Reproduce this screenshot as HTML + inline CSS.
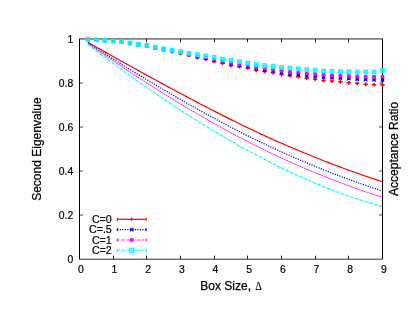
<!DOCTYPE html>
<html><head><meta charset="utf-8"><title>plot</title>
<style>html,body{margin:0;padding:0;background:#fff;}svg{display:block;}</style></head>
<body>
<svg width="415" height="321" viewBox="0 0 415 321">
<rect width="415" height="321" fill="#fff"/>
<defs><filter id="soft" x="0" y="0" width="415" height="321" filterUnits="userSpaceOnUse"><feGaussianBlur stdDeviation="0.35"/></filter></defs>
<g filter="url(#soft)">
<g stroke="#000" stroke-width="1" fill="none">
<line x1="79.5" y1="39" x2="79.5" y2="259"/>
<line x1="382.5" y1="39" x2="382.5" y2="259"/>
<line x1="79" y1="38.95" x2="383" y2="38.95" stroke="#111" stroke-width="0.95"/>
<line x1="79" y1="259.2" x2="383" y2="259.2" stroke="#111" stroke-width="0.85"/>
</g>
<g stroke="#000" stroke-width="1" fill="none">
<line x1="113.5" y1="259" x2="113.5" y2="255.6" stroke-width="0.85"/>
<line x1="113.5" y1="39" x2="113.5" y2="42.3" stroke-width="0.85"/>
<line x1="146.5" y1="259" x2="146.5" y2="255.6" stroke-width="0.85"/>
<line x1="146.5" y1="39" x2="146.5" y2="42.3" stroke-width="0.85"/>
<line x1="180.5" y1="259" x2="180.5" y2="255.6" stroke-width="0.85"/>
<line x1="180.5" y1="39" x2="180.5" y2="42.3" stroke-width="0.85"/>
<line x1="214.5" y1="259" x2="214.5" y2="255.6" stroke-width="0.85"/>
<line x1="214.5" y1="39" x2="214.5" y2="42.3" stroke-width="0.85"/>
<line x1="247.5" y1="259" x2="247.5" y2="255.6" stroke-width="0.85"/>
<line x1="247.5" y1="39" x2="247.5" y2="42.3" stroke-width="0.85"/>
<line x1="281.5" y1="259" x2="281.5" y2="255.6" stroke-width="0.85"/>
<line x1="281.5" y1="39" x2="281.5" y2="42.3" stroke-width="0.85"/>
<line x1="315.5" y1="259" x2="315.5" y2="255.6" stroke-width="0.85"/>
<line x1="315.5" y1="39" x2="315.5" y2="42.3" stroke-width="0.85"/>
<line x1="348.5" y1="259" x2="348.5" y2="255.6" stroke-width="0.85"/>
<line x1="348.5" y1="39" x2="348.5" y2="42.3" stroke-width="0.85"/>
<line x1="80" y1="215.0" x2="83" y2="215.0" stroke="#555"/>
<line x1="382" y1="215.0" x2="379" y2="215.0" stroke="#555"/>
<line x1="80" y1="171.0" x2="83" y2="171.0" stroke="#555"/>
<line x1="382" y1="171.0" x2="379" y2="171.0" stroke="#555"/>
<line x1="80" y1="126.99999999999997" x2="83" y2="126.99999999999997" stroke="#555"/>
<line x1="382" y1="126.99999999999997" x2="379" y2="126.99999999999997" stroke="#555"/>
<line x1="80" y1="83.0" x2="83" y2="83.0" stroke="#555"/>
<line x1="382" y1="83.0" x2="379" y2="83.0" stroke="#555"/>
</g>
<g font-family="Liberation Sans, sans-serif" font-size="10.4" fill="#000" stroke="#000" stroke-width="0.2">
<text x="80.8" y="273" text-anchor="middle">0</text>
<text x="114.5" y="273" text-anchor="middle">1</text>
<text x="148.1" y="273" text-anchor="middle">2</text>
<text x="181.8" y="273" text-anchor="middle">3</text>
<text x="215.5" y="273" text-anchor="middle">4</text>
<text x="249.1" y="273" text-anchor="middle">5</text>
<text x="282.8" y="273" text-anchor="middle">6</text>
<text x="316.5" y="273" text-anchor="middle">7</text>
<text x="350.1" y="273" text-anchor="middle">8</text>
<text x="383.8" y="273" text-anchor="middle">9</text>
<text x="73.3" y="262.7" text-anchor="end">0</text>
<text x="73.3" y="218.7" text-anchor="end">0.2</text>
<text x="73.3" y="174.7" text-anchor="end">0.4</text>
<text x="73.3" y="130.7" text-anchor="end">0.6</text>
<text x="73.3" y="86.7" text-anchor="end">0.8</text>
<text x="73.3" y="42.7" text-anchor="end">1</text>
</g>
<g font-family="Liberation Sans, sans-serif" font-size="12" fill="#000" stroke="#000" stroke-width="0.25">
<text x="200.3" y="289.6">Box Size,</text><text transform="translate(255.2,289.6) scale(0.82,1)" font-family="Liberation Serif, serif" font-size="12.6" stroke-width="0.15">Δ</text>
<text transform="translate(41.2,149.1) rotate(-90)" text-anchor="middle">Second Eigenvalue</text>
<text transform="translate(397.6,148.9) rotate(-90)" text-anchor="middle">Acceptance Ratio</text>
</g>
<g fill="none">
<path d="M87.92,42.35 L90.39,43.75 L92.87,45.15 L95.34,46.55 L97.82,47.95 L100.29,49.35 L102.77,50.74 L105.25,52.13 L107.72,53.53 L110.20,54.92 L112.67,56.30 L115.15,57.69 L117.62,59.07 L120.10,60.45 L122.57,61.83 L125.05,63.21 L127.52,64.59 L130.00,65.96 L132.48,67.33 L134.95,68.70 L137.43,70.06 L139.90,71.43 L142.38,72.79 L144.85,74.15 L147.33,75.51 L149.80,76.86 L152.28,78.22 L154.75,79.57 L157.23,80.91 L159.71,82.26 L162.18,83.60 L164.66,84.94 L167.13,86.28 L169.61,87.61 L172.08,88.95 L174.56,90.28 L177.03,91.60 L179.51,92.93 L181.99,94.25 L184.46,95.57 L186.94,96.88 L189.41,98.19 L191.89,99.50 L194.36,100.81 L196.84,102.11 L199.31,103.41 L201.79,104.70 L204.26,105.99 L206.74,107.28 L209.22,108.56 L211.69,109.83 L214.17,111.10 L216.64,112.37 L219.12,113.63 L221.59,114.89 L224.07,116.14 L226.54,117.39 L229.02,118.62 L231.50,119.86 L233.97,121.08 L236.45,122.30 L238.92,123.52 L241.40,124.72 L243.87,125.92 L246.35,127.12 L248.82,128.30 L251.30,129.48 L253.77,130.65 L256.25,131.82 L258.73,132.97 L261.20,134.12 L263.68,135.26 L266.15,136.40 L268.63,137.52 L271.10,138.64 L273.58,139.75 L276.05,140.86 L278.53,141.95 L281.00,143.04 L283.48,144.12 L285.96,145.20 L288.43,146.26 L290.91,147.32 L293.38,148.37 L295.86,149.42 L298.33,150.46 L300.81,151.49 L303.28,152.52 L305.76,153.53 L308.24,154.55 L310.71,155.55 L313.19,156.55 L315.66,157.54 L318.14,158.53 L320.61,159.51 L323.09,160.48 L325.56,161.45 L328.04,162.41 L330.51,163.36 L332.99,164.31 L335.47,165.25 L337.94,166.18 L340.42,167.11 L342.89,168.03 L345.37,168.94 L347.84,169.85 L350.32,170.75 L352.79,171.64 L355.27,172.52 L357.75,173.40 L360.22,174.27 L362.70,175.13 L365.17,175.99 L367.65,176.84 L370.12,177.67 L372.60,178.51 L375.07,179.33 L377.55,180.15 L380.02,180.95 L382.50,181.75" stroke="#ff0000" stroke-width="1.2"/>
<path d="M87.92,42.99 L90.39,44.58 L92.87,46.17 L95.34,47.76 L97.82,49.34 L100.29,50.92 L102.77,52.49 L105.25,54.06 L107.72,55.62 L110.20,57.18 L112.67,58.74 L115.15,60.29 L117.62,61.83 L120.10,63.38 L122.57,64.91 L125.05,66.44 L127.52,67.97 L130.00,69.49 L132.48,71.01 L134.95,72.52 L137.43,74.03 L139.90,75.53 L142.38,77.03 L144.85,78.52 L147.33,80.01 L149.80,81.50 L152.28,82.97 L154.75,84.45 L157.23,85.92 L159.71,87.38 L162.18,88.84 L164.66,90.30 L167.13,91.75 L169.61,93.19 L172.08,94.63 L174.56,96.07 L177.03,97.50 L179.51,98.92 L181.99,100.34 L184.46,101.76 L186.94,103.17 L189.41,104.57 L191.89,105.97 L194.36,107.36 L196.84,108.75 L199.31,110.13 L201.79,111.50 L204.26,112.87 L206.74,114.24 L209.22,115.60 L211.69,116.95 L214.17,118.29 L216.64,119.63 L219.12,120.96 L221.59,122.28 L224.07,123.60 L226.54,124.91 L229.02,126.21 L231.50,127.51 L233.97,128.79 L236.45,130.07 L238.92,131.34 L241.40,132.60 L243.87,133.86 L246.35,135.10 L248.82,136.34 L251.30,137.57 L253.77,138.79 L256.25,140.00 L258.73,141.21 L261.20,142.40 L263.68,143.59 L266.15,144.76 L268.63,145.93 L271.10,147.09 L273.58,148.24 L276.05,149.39 L278.53,150.52 L281.00,151.65 L283.48,152.76 L285.96,153.87 L288.43,154.97 L290.91,156.07 L293.38,157.15 L295.86,158.23 L298.33,159.29 L300.81,160.35 L303.28,161.41 L305.76,162.45 L308.24,163.49 L310.71,164.52 L313.19,165.54 L315.66,166.56 L318.14,167.56 L320.61,168.56 L323.09,169.56 L325.56,170.54 L328.04,171.52 L330.51,172.49 L332.99,173.45 L335.47,174.40 L337.94,175.35 L340.42,176.29 L342.89,177.22 L345.37,178.15 L347.84,179.06 L350.32,179.97 L352.79,180.87 L355.27,181.77 L357.75,182.65 L360.22,183.53 L362.70,184.40 L365.17,185.26 L367.65,186.11 L370.12,186.95 L372.60,187.79 L375.07,188.61 L377.55,189.43 L380.02,190.24 L382.50,191.04" stroke="#0000ff" stroke-width="1.2" stroke-dasharray="1.2 1.3"/>
<path d="M87.92,43.42 L90.39,45.16 L92.87,46.89 L95.34,48.61 L97.82,50.33 L100.29,52.04 L102.77,53.74 L105.25,55.44 L107.72,57.13 L110.20,58.81 L112.67,60.49 L115.15,62.16 L117.62,63.83 L120.10,65.48 L122.57,67.13 L125.05,68.78 L127.52,70.42 L130.00,72.05 L132.48,73.67 L134.95,75.29 L137.43,76.90 L139.90,78.50 L142.38,80.10 L144.85,81.69 L147.33,83.28 L149.80,84.85 L152.28,86.42 L154.75,87.99 L157.23,89.55 L159.71,91.10 L162.18,92.64 L164.66,94.18 L167.13,95.71 L169.61,97.24 L172.08,98.75 L174.56,100.27 L177.03,101.77 L179.51,103.27 L181.99,104.76 L184.46,106.24 L186.94,107.72 L189.41,109.19 L191.89,110.66 L194.36,112.11 L196.84,113.56 L199.31,115.01 L201.79,116.44 L204.26,117.87 L206.74,119.29 L209.22,120.70 L211.69,122.11 L214.17,123.50 L216.64,124.89 L219.12,126.27 L221.59,127.64 L224.07,129.01 L226.54,130.36 L229.02,131.71 L231.50,133.05 L233.97,134.37 L236.45,135.69 L238.92,137.00 L241.40,138.30 L243.87,139.60 L246.35,140.88 L248.82,142.15 L251.30,143.41 L253.77,144.66 L256.25,145.91 L258.73,147.14 L261.20,148.36 L263.68,149.58 L266.15,150.78 L268.63,151.97 L271.10,153.16 L273.58,154.33 L276.05,155.50 L278.53,156.65 L281.00,157.80 L283.48,158.94 L285.96,160.06 L288.43,161.18 L290.91,162.29 L293.38,163.39 L295.86,164.48 L298.33,165.57 L300.81,166.64 L303.28,167.71 L305.76,168.76 L308.24,169.81 L310.71,170.85 L313.19,171.88 L315.66,172.91 L318.14,173.92 L320.61,174.93 L323.09,175.93 L325.56,176.92 L328.04,177.90 L330.51,178.87 L332.99,179.84 L335.47,180.80 L337.94,181.75 L340.42,182.69 L342.89,183.62 L345.37,184.55 L347.84,185.47 L350.32,186.37 L352.79,187.27 L355.27,188.17 L357.75,189.05 L360.22,189.93 L362.70,190.79 L365.17,191.65 L367.65,192.50 L370.12,193.34 L372.60,194.17 L375.07,194.99 L377.55,195.81 L380.02,196.61 L382.50,197.41" stroke="#ff00ff" stroke-width="0.95" stroke-dasharray="2 0.4"/>
<path d="M87.92,44.51 L90.39,46.39 L92.87,48.27 L95.34,50.14 L97.82,52.00 L100.29,53.86 L102.77,55.71 L105.25,57.56 L107.72,59.40 L110.20,61.23 L112.67,63.05 L115.15,64.87 L117.62,66.68 L120.10,68.49 L122.57,70.29 L125.05,72.08 L127.52,73.86 L130.00,75.63 L132.48,77.40 L134.95,79.17 L137.43,80.92 L139.90,82.67 L142.38,84.40 L144.85,86.14 L147.33,87.86 L149.80,89.58 L152.28,91.28 L154.75,92.98 L157.23,94.68 L159.71,96.36 L162.18,98.04 L164.66,99.71 L167.13,101.37 L169.61,103.02 L172.08,104.66 L174.56,106.30 L177.03,107.92 L179.51,109.54 L181.99,111.15 L184.46,112.75 L186.94,114.34 L189.41,115.92 L191.89,117.50 L194.36,119.06 L196.84,120.62 L199.31,122.16 L201.79,123.70 L204.26,125.23 L206.74,126.75 L209.22,128.26 L211.69,129.76 L214.17,131.25 L216.64,132.73 L219.12,134.20 L221.59,135.67 L224.07,137.12 L226.54,138.56 L229.02,139.99 L231.50,141.42 L233.97,142.83 L236.45,144.23 L238.92,145.62 L241.40,147.00 L243.87,148.38 L246.35,149.74 L248.82,151.09 L251.30,152.43 L253.77,153.76 L256.25,155.08 L258.73,156.38 L261.20,157.68 L263.68,158.97 L266.15,160.24 L268.63,161.51 L271.10,162.76 L273.58,164.00 L276.05,165.24 L278.53,166.46 L281.00,167.66 L283.48,168.86 L285.96,170.05 L288.43,171.22 L290.91,172.38 L293.38,173.53 L295.86,174.67 L298.33,175.80 L300.81,176.92 L303.28,178.02 L305.76,179.11 L308.24,180.19 L310.71,181.26 L313.19,182.32 L315.66,183.36 L318.14,184.39 L320.61,185.41 L323.09,186.41 L325.56,187.41 L328.04,188.39 L330.51,189.35 L332.99,190.31 L335.47,191.25 L337.94,192.18 L340.42,193.10 L342.89,194.00 L345.37,194.89 L347.84,195.77 L350.32,196.63 L352.79,197.48 L355.27,198.32 L357.75,199.15 L360.22,199.96 L362.70,200.75 L365.17,201.54 L367.65,202.31 L370.12,203.06 L372.60,203.80 L375.07,204.53 L377.55,205.25 L380.02,205.95 L382.50,206.63" stroke="#00ffff" stroke-width="1.25" stroke-dasharray="2.6 0.8 0.8 0.8"/>
</g>
<path d="M85.72,39.41H90.12M87.92,37.51V41.31" stroke="#ff0000" stroke-width="1.5" fill="none"/>
<path d="M94.13,39.84H98.53M96.33,37.95V41.74" stroke="#ff0000" stroke-width="1.5" fill="none"/>
<path d="M102.55,40.50H106.95M104.75,38.60V42.40" stroke="#ff0000" stroke-width="1.5" fill="none"/>
<path d="M110.97,41.18H115.37M113.17,39.28V43.08" stroke="#ff0000" stroke-width="1.5" fill="none"/>
<path d="M119.38,41.88H123.78M121.58,39.98V43.78" stroke="#ff0000" stroke-width="1.5" fill="none"/>
<path d="M127.80,43.41H132.20M130.00,41.51V45.30" stroke="#ff0000" stroke-width="1.5" fill="none"/>
<path d="M136.22,44.95H140.62M138.42,43.05V46.85" stroke="#ff0000" stroke-width="1.5" fill="none"/>
<path d="M144.63,46.12H149.03M146.83,44.22V48.02" stroke="#ff0000" stroke-width="1.5" fill="none"/>
<path d="M153.05,48.21H157.45M155.25,46.31V50.11" stroke="#ff0000" stroke-width="1.5" fill="none"/>
<path d="M161.47,49.83H165.87M163.67,47.93V51.73" stroke="#ff0000" stroke-width="1.5" fill="none"/>
<path d="M169.88,51.56H174.28M172.08,49.66V53.46" stroke="#ff0000" stroke-width="1.5" fill="none"/>
<path d="M178.30,53.22H182.70M180.50,51.32V55.12" stroke="#ff0000" stroke-width="1.5" fill="none"/>
<path d="M186.72,55.20H191.12M188.92,53.30V57.10" stroke="#ff0000" stroke-width="1.5" fill="none"/>
<path d="M195.13,57.60H199.53M197.33,55.70V59.50" stroke="#ff0000" stroke-width="1.5" fill="none"/>
<path d="M203.55,59.10H207.95M205.75,57.20V61.00" stroke="#ff0000" stroke-width="1.5" fill="none"/>
<path d="M211.97,61.40H216.37M214.17,59.50V63.30" stroke="#ff0000" stroke-width="1.5" fill="none"/>
<path d="M220.38,63.10H224.78M222.58,61.20V65.00" stroke="#ff0000" stroke-width="1.5" fill="none"/>
<path d="M228.80,65.60H233.20M231.00,63.70V67.50" stroke="#ff0000" stroke-width="1.5" fill="none"/>
<path d="M237.22,66.70H241.62M239.42,64.80V68.60" stroke="#ff0000" stroke-width="1.5" fill="none"/>
<path d="M245.63,68.10H250.03M247.83,66.20V70.00" stroke="#ff0000" stroke-width="1.5" fill="none"/>
<path d="M254.05,70.30H258.45M256.25,68.40V72.20" stroke="#ff0000" stroke-width="1.5" fill="none"/>
<path d="M262.47,71.50H266.87M264.67,69.60V73.40" stroke="#ff0000" stroke-width="1.5" fill="none"/>
<path d="M270.88,72.80H275.28M273.08,70.90V74.70" stroke="#ff0000" stroke-width="1.5" fill="none"/>
<path d="M279.30,74.60H283.70M281.50,72.70V76.50" stroke="#ff0000" stroke-width="1.5" fill="none"/>
<path d="M287.72,75.65H292.12M289.92,73.75V77.55" stroke="#ff0000" stroke-width="1.5" fill="none"/>
<path d="M296.13,76.70H300.53M298.33,74.80V78.60" stroke="#ff0000" stroke-width="1.5" fill="none"/>
<path d="M304.55,78.20H308.95M306.75,76.30V80.10" stroke="#ff0000" stroke-width="1.5" fill="none"/>
<path d="M312.97,79.30H317.37M315.17,77.40V81.20" stroke="#ff0000" stroke-width="1.5" fill="none"/>
<path d="M321.38,80.40H325.78M323.58,78.50V82.30" stroke="#ff0000" stroke-width="1.5" fill="none"/>
<path d="M329.80,81.10H334.20M332.00,79.20V83.00" stroke="#ff0000" stroke-width="1.5" fill="none"/>
<path d="M338.22,81.80H342.62M340.42,79.90V83.70" stroke="#ff0000" stroke-width="1.5" fill="none"/>
<path d="M346.63,82.80H351.03M348.83,80.90V84.70" stroke="#ff0000" stroke-width="1.5" fill="none"/>
<path d="M355.05,83.30H359.45M357.25,81.40V85.20" stroke="#ff0000" stroke-width="1.5" fill="none"/>
<path d="M363.47,84.30H367.87M365.67,82.40V86.20" stroke="#ff0000" stroke-width="1.5" fill="none"/>
<path d="M371.88,84.70H376.28M374.08,82.80V86.60" stroke="#ff0000" stroke-width="1.5" fill="none"/>
<path d="M380.30,84.90H384.70M382.50,83.00V86.80" stroke="#ff0000" stroke-width="1.5" fill="none"/>
<path d="M86.27,37.76L89.57,41.06M86.27,41.06L89.57,37.76M86.27,39.41H89.57" stroke="#0000ff" stroke-width="1.15" fill="none"/>
<path d="M94.68,38.18L97.98,41.48M94.68,41.48L97.98,38.18M94.68,39.83H97.98" stroke="#0000ff" stroke-width="1.15" fill="none"/>
<path d="M103.10,38.82L106.40,42.12M103.10,42.12L106.40,38.82M103.10,40.47H106.40" stroke="#0000ff" stroke-width="1.15" fill="none"/>
<path d="M111.52,39.48L114.82,42.78M111.52,42.78L114.82,39.48M111.52,41.13H114.82" stroke="#0000ff" stroke-width="1.15" fill="none"/>
<path d="M119.93,40.15L123.23,43.45M119.93,43.45L123.23,40.15M119.93,41.80H123.23" stroke="#0000ff" stroke-width="1.15" fill="none"/>
<path d="M128.35,41.64L131.65,44.94M128.35,44.94L131.65,41.64M128.35,43.29H131.65" stroke="#0000ff" stroke-width="1.15" fill="none"/>
<path d="M136.77,43.15L140.07,46.45M136.77,46.45L140.07,43.15M136.77,44.80H140.07" stroke="#0000ff" stroke-width="1.15" fill="none"/>
<path d="M145.18,44.27L148.48,47.57M145.18,47.57L148.48,44.27M145.18,45.92H148.48" stroke="#0000ff" stroke-width="1.15" fill="none"/>
<path d="M153.60,46.31L156.90,49.61M153.60,49.61L156.90,46.31M153.60,47.96H156.90" stroke="#0000ff" stroke-width="1.15" fill="none"/>
<path d="M162.02,47.86L165.32,51.16M162.02,51.16L165.32,47.86M162.02,49.51H165.32" stroke="#0000ff" stroke-width="1.15" fill="none"/>
<path d="M170.43,49.53L173.73,52.83M170.43,52.83L173.73,49.53M170.43,51.18H173.73" stroke="#0000ff" stroke-width="1.15" fill="none"/>
<path d="M178.85,51.12L182.15,54.42M178.85,54.42L182.15,51.12M178.85,52.77H182.15" stroke="#0000ff" stroke-width="1.15" fill="none"/>
<path d="M187.27,53.02L190.57,56.32M187.27,56.32L190.57,53.02M187.27,54.67H190.57" stroke="#0000ff" stroke-width="1.15" fill="none"/>
<path d="M195.68,55.08L198.98,58.38M195.68,58.38L198.98,55.08M195.68,56.73H198.98" stroke="#0000ff" stroke-width="1.15" fill="none"/>
<path d="M204.10,56.55L207.40,59.85M204.10,59.85L207.40,56.55M204.10,58.20H207.40" stroke="#0000ff" stroke-width="1.15" fill="none"/>
<path d="M212.52,58.60L215.82,61.90M212.52,61.90L215.82,58.60M212.52,60.25H215.82" stroke="#0000ff" stroke-width="1.15" fill="none"/>
<path d="M220.93,60.33L224.23,63.63M220.93,63.63L224.23,60.33M220.93,61.98H224.23" stroke="#0000ff" stroke-width="1.15" fill="none"/>
<path d="M229.35,62.44L232.65,65.74M229.35,65.74L232.65,62.44M229.35,64.09H232.65" stroke="#0000ff" stroke-width="1.15" fill="none"/>
<path d="M237.77,63.65L241.07,66.95M237.77,66.95L241.07,63.65M237.77,65.30H241.07" stroke="#0000ff" stroke-width="1.15" fill="none"/>
<path d="M246.18,65.05L249.48,68.35M246.18,68.35L249.48,65.05M246.18,66.70H249.48" stroke="#0000ff" stroke-width="1.15" fill="none"/>
<path d="M254.60,67.03L257.90,70.33M254.60,70.33L257.90,67.03M254.60,68.68H257.90" stroke="#0000ff" stroke-width="1.15" fill="none"/>
<path d="M263.02,68.17L266.32,71.47M263.02,71.47L266.32,68.17M263.02,69.82H266.32" stroke="#0000ff" stroke-width="1.15" fill="none"/>
<path d="M271.43,69.36L274.73,72.66M271.43,72.66L274.73,69.36M271.43,71.01H274.73" stroke="#0000ff" stroke-width="1.15" fill="none"/>
<path d="M279.85,70.93L283.15,74.23M279.85,74.23L283.15,70.93M279.85,72.58H283.15" stroke="#0000ff" stroke-width="1.15" fill="none"/>
<path d="M288.27,72.25L291.57,75.55M288.27,75.55L291.57,72.25M288.27,73.90H291.57" stroke="#0000ff" stroke-width="1.15" fill="none"/>
<path d="M296.68,72.95L299.98,76.25M296.68,76.25L299.98,72.95M296.68,74.60H299.98" stroke="#0000ff" stroke-width="1.15" fill="none"/>
<path d="M305.10,74.05L308.40,77.35M305.10,77.35L308.40,74.05M305.10,75.70H308.40" stroke="#0000ff" stroke-width="1.15" fill="none"/>
<path d="M313.52,74.85L316.82,78.15M313.52,78.15L316.82,74.85M313.52,76.50H316.82" stroke="#0000ff" stroke-width="1.15" fill="none"/>
<path d="M321.93,75.55L325.23,78.85M321.93,78.85L325.23,75.55M321.93,77.20H325.23" stroke="#0000ff" stroke-width="1.15" fill="none"/>
<path d="M330.35,76.15L333.65,79.45M330.35,79.45L333.65,76.15M330.35,77.80H333.65" stroke="#0000ff" stroke-width="1.15" fill="none"/>
<path d="M338.77,76.65L342.07,79.95M338.77,79.95L342.07,76.65M338.77,78.30H342.07" stroke="#0000ff" stroke-width="1.15" fill="none"/>
<path d="M347.18,76.95L350.48,80.25M347.18,80.25L350.48,76.95M347.18,78.60H350.48" stroke="#0000ff" stroke-width="1.15" fill="none"/>
<path d="M355.60,77.55L358.90,80.85M355.60,80.85L358.90,77.55M355.60,79.20H358.90" stroke="#0000ff" stroke-width="1.15" fill="none"/>
<path d="M364.02,77.95L367.32,81.25M364.02,81.25L367.32,77.95M364.02,79.60H367.32" stroke="#0000ff" stroke-width="1.15" fill="none"/>
<path d="M372.43,78.25L375.73,81.55M372.43,81.55L375.73,78.25M372.43,79.90H375.73" stroke="#0000ff" stroke-width="1.15" fill="none"/>
<path d="M380.85,78.25L384.15,81.55M380.85,81.55L384.15,78.25M380.85,79.90H384.15" stroke="#0000ff" stroke-width="1.15" fill="none"/>
<path d="M85.92,39.41H89.92M87.92,37.71V41.11M86.42,37.91L89.42,40.91M86.42,40.91L89.42,37.91" stroke="#ff00ff" stroke-width="1.3" fill="none"/><rect x="86.52" y="38.11" width="2.8" height="2.6" fill="#ff00ff"/>
<path d="M94.33,39.82H98.33M96.33,38.12V41.52M94.83,38.32L97.83,41.32M94.83,41.32L97.83,38.32" stroke="#ff00ff" stroke-width="1.3" fill="none"/><rect x="94.93" y="38.52" width="2.8" height="2.6" fill="#ff00ff"/>
<path d="M102.75,40.45H106.75M104.75,38.75V42.15M103.25,38.95L106.25,41.95M103.25,41.95L106.25,38.95" stroke="#ff00ff" stroke-width="1.3" fill="none"/><rect x="103.35" y="39.15" width="2.8" height="2.6" fill="#ff00ff"/>
<path d="M111.17,41.08H115.17M113.17,39.38V42.78M111.67,39.58L114.67,42.58M111.67,42.58L114.67,39.58" stroke="#ff00ff" stroke-width="1.3" fill="none"/><rect x="111.77" y="39.78" width="2.8" height="2.6" fill="#ff00ff"/>
<path d="M119.58,41.73H123.58M121.58,40.03V43.43M120.08,40.23L123.08,43.23M120.08,43.23L123.08,40.23" stroke="#ff00ff" stroke-width="1.3" fill="none"/><rect x="120.18" y="40.43" width="2.8" height="2.6" fill="#ff00ff"/>
<path d="M128.00,43.19H132.00M130.00,41.49V44.89M128.50,41.69L131.50,44.69M128.50,44.69L131.50,41.69" stroke="#ff00ff" stroke-width="1.3" fill="none"/><rect x="128.60" y="41.89" width="2.8" height="2.6" fill="#ff00ff"/>
<path d="M136.42,44.65H140.42M138.42,42.95V46.35M136.92,43.15L139.92,46.15M136.92,46.15L139.92,43.15" stroke="#ff00ff" stroke-width="1.3" fill="none"/><rect x="137.02" y="43.35" width="2.8" height="2.6" fill="#ff00ff"/>
<path d="M144.83,45.73H148.83M146.83,44.03V47.43M145.33,44.23L148.33,47.23M145.33,47.23L148.33,44.23" stroke="#ff00ff" stroke-width="1.3" fill="none"/><rect x="145.43" y="44.43" width="2.8" height="2.6" fill="#ff00ff"/>
<path d="M153.25,47.72H157.25M155.25,46.02V49.42M153.75,46.22L156.75,49.22M153.75,49.22L156.75,46.22" stroke="#ff00ff" stroke-width="1.3" fill="none"/><rect x="153.85" y="46.42" width="2.8" height="2.6" fill="#ff00ff"/>
<path d="M161.67,49.22H165.67M163.67,47.52V50.92M162.17,47.72L165.17,50.72M162.17,50.72L165.17,47.72" stroke="#ff00ff" stroke-width="1.3" fill="none"/><rect x="162.27" y="47.92" width="2.8" height="2.6" fill="#ff00ff"/>
<path d="M170.08,50.83H174.08M172.08,49.13V52.53M170.58,49.33L173.58,52.33M170.58,52.33L173.58,49.33" stroke="#ff00ff" stroke-width="1.3" fill="none"/><rect x="170.68" y="49.53" width="2.8" height="2.6" fill="#ff00ff"/>
<path d="M178.50,52.35H182.50M180.50,50.65V54.05M179.00,50.85L182.00,53.85M179.00,53.85L182.00,50.85" stroke="#ff00ff" stroke-width="1.3" fill="none"/><rect x="179.10" y="51.05" width="2.8" height="2.6" fill="#ff00ff"/>
<path d="M186.92,54.17H190.92M188.92,52.47V55.87M187.42,52.67L190.42,55.67M187.42,55.67L190.42,52.67" stroke="#ff00ff" stroke-width="1.3" fill="none"/><rect x="187.52" y="52.87" width="2.8" height="2.6" fill="#ff00ff"/>
<path d="M195.33,55.93H199.33M197.33,54.23V57.63M195.83,54.43L198.83,57.43M195.83,57.43L198.83,54.43" stroke="#ff00ff" stroke-width="1.3" fill="none"/><rect x="195.93" y="54.63" width="2.8" height="2.6" fill="#ff00ff"/>
<path d="M203.75,57.37H207.75M205.75,55.67V59.07M204.25,55.87L207.25,58.87M204.25,58.87L207.25,55.87" stroke="#ff00ff" stroke-width="1.3" fill="none"/><rect x="204.35" y="56.07" width="2.8" height="2.6" fill="#ff00ff"/>
<path d="M212.17,59.19H216.17M214.17,57.49V60.89M212.67,57.69L215.67,60.69M212.67,60.69L215.67,57.69" stroke="#ff00ff" stroke-width="1.3" fill="none"/><rect x="212.77" y="57.89" width="2.8" height="2.6" fill="#ff00ff"/>
<path d="M220.58,60.94H224.58M222.58,59.24V62.64M221.08,59.44L224.08,62.44M221.08,62.44L224.08,59.44" stroke="#ff00ff" stroke-width="1.3" fill="none"/><rect x="221.18" y="59.64" width="2.8" height="2.6" fill="#ff00ff"/>
<path d="M229.00,62.68H233.00M231.00,60.98V64.38M229.50,61.18L232.50,64.18M229.50,64.18L232.50,61.18" stroke="#ff00ff" stroke-width="1.3" fill="none"/><rect x="229.60" y="61.38" width="2.8" height="2.6" fill="#ff00ff"/>
<path d="M237.42,64.00H241.42M239.42,62.30V65.70M237.92,62.50L240.92,65.50M237.92,65.50L240.92,62.50" stroke="#ff00ff" stroke-width="1.3" fill="none"/><rect x="238.02" y="62.70" width="2.8" height="2.6" fill="#ff00ff"/>
<path d="M245.83,65.40H249.83M247.83,63.70V67.10M246.33,63.90L249.33,66.90M246.33,66.90L249.33,63.90" stroke="#ff00ff" stroke-width="1.3" fill="none"/><rect x="246.43" y="64.10" width="2.8" height="2.6" fill="#ff00ff"/>
<path d="M254.25,67.17H258.25M256.25,65.47V68.87M254.75,65.67L257.75,68.67M254.75,68.67L257.75,65.67" stroke="#ff00ff" stroke-width="1.3" fill="none"/><rect x="254.85" y="65.87" width="2.8" height="2.6" fill="#ff00ff"/>
<path d="M262.67,68.26H266.67M264.67,66.56V69.96M263.17,66.76L266.17,69.76M263.17,69.76L266.17,66.76" stroke="#ff00ff" stroke-width="1.3" fill="none"/><rect x="263.27" y="66.96" width="2.8" height="2.6" fill="#ff00ff"/>
<path d="M271.08,69.34H275.08M273.08,67.64V71.04M271.58,67.84L274.58,70.84M271.58,70.84L274.58,67.84" stroke="#ff00ff" stroke-width="1.3" fill="none"/><rect x="271.68" y="68.04" width="2.8" height="2.6" fill="#ff00ff"/>
<path d="M279.50,70.71H283.50M281.50,69.01V72.41M280.00,69.21L283.00,72.21M280.00,72.21L283.00,69.21" stroke="#ff00ff" stroke-width="1.3" fill="none"/><rect x="280.10" y="69.41" width="2.8" height="2.6" fill="#ff00ff"/>
<path d="M287.92,71.70H291.92M289.92,70.00V73.40M288.42,70.20L291.42,73.20M288.42,73.20L291.42,70.20" stroke="#ff00ff" stroke-width="1.3" fill="none"/><rect x="288.52" y="70.40" width="2.8" height="2.6" fill="#ff00ff"/>
<path d="M296.33,72.40H300.33M298.33,70.70V74.10M296.83,70.90L299.83,73.90M296.83,73.90L299.83,70.90" stroke="#ff00ff" stroke-width="1.3" fill="none"/><rect x="296.93" y="71.10" width="2.8" height="2.6" fill="#ff00ff"/>
<path d="M304.75,73.10H308.75M306.75,71.40V74.80M305.25,71.60L308.25,74.60M305.25,74.60L308.25,71.60" stroke="#ff00ff" stroke-width="1.3" fill="none"/><rect x="305.35" y="71.80" width="2.8" height="2.6" fill="#ff00ff"/>
<path d="M313.17,73.90H317.17M315.17,72.20V75.60M313.67,72.40L316.67,75.40M313.67,75.40L316.67,72.40" stroke="#ff00ff" stroke-width="1.3" fill="none"/><rect x="313.77" y="72.60" width="2.8" height="2.6" fill="#ff00ff"/>
<path d="M321.58,74.60H325.58M323.58,72.90V76.30M322.08,73.10L325.08,76.10M322.08,76.10L325.08,73.10" stroke="#ff00ff" stroke-width="1.3" fill="none"/><rect x="322.18" y="73.30" width="2.8" height="2.6" fill="#ff00ff"/>
<path d="M330.00,75.30H334.00M332.00,73.60V77.00M330.50,73.80L333.50,76.80M330.50,76.80L333.50,73.80" stroke="#ff00ff" stroke-width="1.3" fill="none"/><rect x="330.60" y="74.00" width="2.8" height="2.6" fill="#ff00ff"/>
<path d="M338.42,75.65H342.42M340.42,73.95V77.35M338.92,74.15L341.92,77.15M338.92,77.15L341.92,74.15" stroke="#ff00ff" stroke-width="1.3" fill="none"/><rect x="339.02" y="74.35" width="2.8" height="2.6" fill="#ff00ff"/>
<path d="M346.83,76.00H350.83M348.83,74.30V77.70M347.33,74.50L350.33,77.50M347.33,77.50L350.33,74.50" stroke="#ff00ff" stroke-width="1.3" fill="none"/><rect x="347.43" y="74.70" width="2.8" height="2.6" fill="#ff00ff"/>
<path d="M355.25,76.30H359.25M357.25,74.60V78.00M355.75,74.80L358.75,77.80M355.75,77.80L358.75,74.80" stroke="#ff00ff" stroke-width="1.3" fill="none"/><rect x="355.85" y="75.00" width="2.8" height="2.6" fill="#ff00ff"/>
<path d="M363.67,76.60H367.67M365.67,74.90V78.30M364.17,75.10L367.17,78.10M364.17,78.10L367.17,75.10" stroke="#ff00ff" stroke-width="1.3" fill="none"/><rect x="364.27" y="75.30" width="2.8" height="2.6" fill="#ff00ff"/>
<path d="M372.08,76.70H376.08M374.08,75.00V78.40M372.58,75.20L375.58,78.20M372.58,78.20L375.58,75.20" stroke="#ff00ff" stroke-width="1.3" fill="none"/><rect x="372.68" y="75.40" width="2.8" height="2.6" fill="#ff00ff"/>
<path d="M380.50,76.40H384.50M382.50,74.70V78.10M381.00,74.90L384.00,77.90M381.00,77.90L384.00,74.90" stroke="#ff00ff" stroke-width="1.3" fill="none"/><rect x="381.10" y="75.10" width="2.8" height="2.6" fill="#ff00ff"/>
<rect x="86.17" y="37.65" width="3.5" height="3.5" fill="#00ffff" fill-opacity="0.6" stroke="#00ffff" stroke-width="1.2"/><path d="M86.17,39.40H89.67" stroke="#00ffff" stroke-width="0.9" fill="none"/>
<rect x="94.58" y="38.05" width="3.5" height="3.5" fill="#00ffff" fill-opacity="0.6" stroke="#00ffff" stroke-width="1.2"/><path d="M94.58,39.80H98.08" stroke="#00ffff" stroke-width="0.9" fill="none"/>
<rect x="103.00" y="38.65" width="3.5" height="3.5" fill="#00ffff" fill-opacity="0.6" stroke="#00ffff" stroke-width="1.2"/><path d="M103.00,40.40H106.50" stroke="#00ffff" stroke-width="0.9" fill="none"/>
<rect x="111.42" y="39.25" width="3.5" height="3.5" fill="#00ffff" fill-opacity="0.6" stroke="#00ffff" stroke-width="1.2"/><path d="M111.42,41.00H114.92" stroke="#00ffff" stroke-width="0.9" fill="none"/>
<rect x="119.83" y="39.85" width="3.5" height="3.5" fill="#00ffff" fill-opacity="0.6" stroke="#00ffff" stroke-width="1.2"/><path d="M119.83,41.60H123.33" stroke="#00ffff" stroke-width="0.9" fill="none"/>
<rect x="128.25" y="41.25" width="3.5" height="3.5" fill="#00ffff" fill-opacity="0.6" stroke="#00ffff" stroke-width="1.2"/><path d="M128.25,43.00H131.75" stroke="#00ffff" stroke-width="0.9" fill="none"/>
<rect x="136.67" y="42.65" width="3.5" height="3.5" fill="#00ffff" fill-opacity="0.6" stroke="#00ffff" stroke-width="1.2"/><path d="M136.67,44.40H140.17" stroke="#00ffff" stroke-width="0.9" fill="none"/>
<rect x="145.08" y="43.65" width="3.5" height="3.5" fill="#00ffff" fill-opacity="0.6" stroke="#00ffff" stroke-width="1.2"/><path d="M145.08,45.40H148.58" stroke="#00ffff" stroke-width="0.9" fill="none"/>
<rect x="153.50" y="45.55" width="3.5" height="3.5" fill="#00ffff" fill-opacity="0.6" stroke="#00ffff" stroke-width="1.2"/><path d="M153.50,47.30H157.00" stroke="#00ffff" stroke-width="0.9" fill="none"/>
<rect x="161.92" y="46.95" width="3.5" height="3.5" fill="#00ffff" fill-opacity="0.6" stroke="#00ffff" stroke-width="1.2"/><path d="M161.92,48.70H165.42" stroke="#00ffff" stroke-width="0.9" fill="none"/>
<rect x="170.33" y="48.45" width="3.5" height="3.5" fill="#00ffff" fill-opacity="0.6" stroke="#00ffff" stroke-width="1.2"/><path d="M170.33,50.20H173.83" stroke="#00ffff" stroke-width="0.9" fill="none"/>
<rect x="178.75" y="49.85" width="3.5" height="3.5" fill="#00ffff" fill-opacity="0.6" stroke="#00ffff" stroke-width="1.2"/><path d="M178.75,51.60H182.25" stroke="#00ffff" stroke-width="0.9" fill="none"/>
<rect x="187.17" y="51.55" width="3.5" height="3.5" fill="#00ffff" fill-opacity="0.6" stroke="#00ffff" stroke-width="1.2"/><path d="M187.17,53.30H190.67" stroke="#00ffff" stroke-width="0.9" fill="none"/>
<rect x="195.58" y="52.75" width="3.5" height="3.5" fill="#00ffff" fill-opacity="0.6" stroke="#00ffff" stroke-width="1.2"/><path d="M195.58,54.50H199.08" stroke="#00ffff" stroke-width="0.9" fill="none"/>
<rect x="204.00" y="54.15" width="3.5" height="3.5" fill="#00ffff" fill-opacity="0.6" stroke="#00ffff" stroke-width="1.2"/><path d="M204.00,55.90H207.50" stroke="#00ffff" stroke-width="0.9" fill="none"/>
<rect x="212.42" y="55.55" width="3.5" height="3.5" fill="#00ffff" fill-opacity="0.6" stroke="#00ffff" stroke-width="1.2"/><path d="M212.42,57.30H215.92" stroke="#00ffff" stroke-width="0.9" fill="none"/>
<rect x="220.83" y="57.35" width="3.5" height="3.5" fill="#00ffff" fill-opacity="0.6" stroke="#00ffff" stroke-width="1.2"/><path d="M220.83,59.10H224.33" stroke="#00ffff" stroke-width="0.9" fill="none"/>
<rect x="229.25" y="58.45" width="3.5" height="3.5" fill="#00ffff" fill-opacity="0.6" stroke="#00ffff" stroke-width="1.2"/><path d="M229.25,60.20H232.75" stroke="#00ffff" stroke-width="0.9" fill="none"/>
<rect x="237.67" y="59.95" width="3.5" height="3.5" fill="#00ffff" fill-opacity="0.6" stroke="#00ffff" stroke-width="1.2"/><path d="M237.67,61.70H241.17" stroke="#00ffff" stroke-width="0.9" fill="none"/>
<rect x="246.08" y="61.35" width="3.5" height="3.5" fill="#00ffff" fill-opacity="0.6" stroke="#00ffff" stroke-width="1.2"/><path d="M246.08,63.10H249.58" stroke="#00ffff" stroke-width="0.9" fill="none"/>
<rect x="254.50" y="62.75" width="3.5" height="3.5" fill="#00ffff" fill-opacity="0.6" stroke="#00ffff" stroke-width="1.2"/><path d="M254.50,64.50H258.00" stroke="#00ffff" stroke-width="0.9" fill="none"/>
<rect x="262.92" y="63.75" width="3.5" height="3.5" fill="#00ffff" fill-opacity="0.6" stroke="#00ffff" stroke-width="1.2"/><path d="M262.92,65.50H266.42" stroke="#00ffff" stroke-width="0.9" fill="none"/>
<rect x="271.33" y="64.65" width="3.5" height="3.5" fill="#00ffff" fill-opacity="0.6" stroke="#00ffff" stroke-width="1.2"/><path d="M271.33,66.40H274.83" stroke="#00ffff" stroke-width="0.9" fill="none"/>
<rect x="279.75" y="65.65" width="3.5" height="3.5" fill="#00ffff" fill-opacity="0.6" stroke="#00ffff" stroke-width="1.2"/><path d="M279.75,67.40H283.25" stroke="#00ffff" stroke-width="0.9" fill="none"/>
<rect x="288.17" y="66.35" width="3.5" height="3.5" fill="#00ffff" fill-opacity="0.6" stroke="#00ffff" stroke-width="1.2"/><path d="M288.17,68.10H291.67" stroke="#00ffff" stroke-width="0.9" fill="none"/>
<rect x="296.58" y="67.05" width="3.5" height="3.5" fill="#00ffff" fill-opacity="0.6" stroke="#00ffff" stroke-width="1.2"/><path d="M296.58,68.80H300.08" stroke="#00ffff" stroke-width="0.9" fill="none"/>
<rect x="305.00" y="67.75" width="3.5" height="3.5" fill="#00ffff" fill-opacity="0.6" stroke="#00ffff" stroke-width="1.2"/><path d="M305.00,69.50H308.50" stroke="#00ffff" stroke-width="0.9" fill="none"/>
<rect x="313.42" y="68.45" width="3.5" height="3.5" fill="#00ffff" fill-opacity="0.6" stroke="#00ffff" stroke-width="1.2"/><path d="M313.42,70.20H316.92" stroke="#00ffff" stroke-width="0.9" fill="none"/>
<rect x="321.83" y="69.25" width="3.5" height="3.5" fill="#00ffff" fill-opacity="0.6" stroke="#00ffff" stroke-width="1.2"/><path d="M321.83,71.00H325.33" stroke="#00ffff" stroke-width="0.9" fill="none"/>
<rect x="330.25" y="69.65" width="3.5" height="3.5" fill="#00ffff" fill-opacity="0.6" stroke="#00ffff" stroke-width="1.2"/><path d="M330.25,71.40H333.75" stroke="#00ffff" stroke-width="0.9" fill="none"/>
<rect x="338.67" y="69.85" width="3.5" height="3.5" fill="#00ffff" fill-opacity="0.6" stroke="#00ffff" stroke-width="1.2"/><path d="M338.67,71.60H342.17" stroke="#00ffff" stroke-width="0.9" fill="none"/>
<rect x="347.08" y="69.95" width="3.5" height="3.5" fill="#00ffff" fill-opacity="0.6" stroke="#00ffff" stroke-width="1.2"/><path d="M347.08,71.70H350.58" stroke="#00ffff" stroke-width="0.9" fill="none"/>
<rect x="355.50" y="70.25" width="3.5" height="3.5" fill="#00ffff" fill-opacity="0.6" stroke="#00ffff" stroke-width="1.2"/><path d="M355.50,72.00H359.00" stroke="#00ffff" stroke-width="0.9" fill="none"/>
<rect x="363.92" y="70.35" width="3.5" height="3.5" fill="#00ffff" fill-opacity="0.6" stroke="#00ffff" stroke-width="1.2"/><path d="M363.92,72.10H367.42" stroke="#00ffff" stroke-width="0.9" fill="none"/>
<rect x="372.33" y="70.25" width="3.5" height="3.5" fill="#00ffff" fill-opacity="0.6" stroke="#00ffff" stroke-width="1.2"/><path d="M372.33,72.00H375.83" stroke="#00ffff" stroke-width="0.9" fill="none"/>
<rect x="380.75" y="68.65" width="3.5" height="3.5" fill="#00ffff" fill-opacity="0.6" stroke="#00ffff" stroke-width="1.2"/><path d="M380.75,70.40H384.25" stroke="#00ffff" stroke-width="0.9" fill="none"/>
<g font-family="Liberation Sans, sans-serif" font-size="10.7" fill="#000" stroke="#000" stroke-width="0.2" text-anchor="end">
<text x="111.8" y="223.1">C=0</text>
<text x="111.8" y="233.4">C=.5</text>
<text x="111.8" y="243.8">C=1</text>
<text x="111.8" y="254.1">C=2</text>
</g>
<path d="M117.3,219.3H146.2" stroke="#ff0000" stroke-width="1.2"/>
<path d="M117.3,217.70000000000002V220.9M146.2,217.70000000000002V220.9" stroke="#ff0000" stroke-width="1" fill="none"/>
<path d="M129.90,219.30H133.50M131.70,217.70V220.90" stroke="#ff0000" stroke-width="1.1" fill="none"/>
<path d="M117.3,229.6H146.2" stroke="#0000ff" stroke-width="1.1" stroke-dasharray="1.2 1.3"/>
<path d="M117.3,228.0V231.2M146.2,228.0V231.2" stroke="#0000ff" stroke-width="1" fill="none"/>
<path d="M130.00,227.90L133.40,231.30M130.00,231.30L133.40,227.90M130.00,229.60H133.40" stroke="#0000ff" stroke-width="1.1" fill="none"/>
<path d="M117.3,240.0H146.2" stroke="#ff00ff" stroke-width="0.9" stroke-dasharray="2.4 0.9 0.7 0.9"/>
<path d="M117.3,238.4V241.6M146.2,238.4V241.6" stroke="#ff00ff" stroke-width="1" fill="none"/>
<path d="M129.80,240.00H133.60M131.70,238.38V241.62M130.10,238.40L133.30,241.60M130.10,241.60L133.30,238.40" stroke="#ff00ff" stroke-width="1.35" fill="none"/><rect x="130.30" y="238.70" width="2.8" height="2.6" fill="#ff00ff"/>
<path d="M117.3,250.3H146.2" stroke="#00ffff" stroke-width="1.1" stroke-dasharray="2.6 0.8 0.8 0.8"/>
<path d="M117.3,248.70000000000002V251.9M146.2,248.70000000000002V251.9" stroke="#00ffff" stroke-width="1" fill="none"/>
<rect x="129.7" y="248.3" width="4.0" height="4.0" fill="#00ffff" fill-opacity="0.25" stroke="#00ffff" stroke-width="1.1"/><circle cx="131.7" cy="250.3" r="0.7" fill="#00ffff"/>
</g>
</svg>
</body></html>
